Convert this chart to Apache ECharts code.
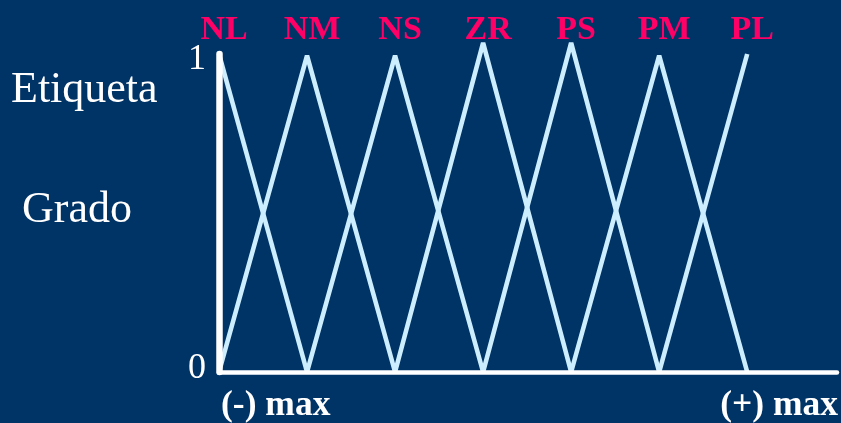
<!DOCTYPE html>
<html>
<head>
<meta charset="utf-8">
<script src="https://cdn.jsdelivr.net/npm/echarts@6/dist/echarts.min.js"></script>
<style>
html,body{margin:0;padding:0;background:#003366;}
#c{width:841px;height:423px;}
</style>
</head>
<body>
<div id="c"></div>
<script>
// Fuzzy label names and their triangle peaks
const labelNames = ['NL', 'NM', 'NS', 'ZR', 'PS', 'PM', 'PL'];
const peakX = [0, 1, 2, 3, 4, 5, 6];
const peakY = [1.0, 0.995, 0.995, 1.035, 1.035, 0.995, 1.0];
const yTickLabels = ['0', '1'];
const xEndLabels = ['(-) max', '(+) max'];
const sideLabels = ['Etiqueta', 'Grado'];

const lineColor = '#cceeff';
const pink = '#ff0066';
const serif = "'Liberation Serif', 'Times New Roman', serif";

const series = labelNames.map((name, i) => {
  const pts = [];
  if (i > 0) pts.push([peakX[i] - 1, 0]);
  pts.push([peakX[i], peakY[i]]);
  if (i < labelNames.length - 1) pts.push([peakX[i] + 1, 0]);
  return {
    name: name,
    type: 'line',
    data: pts,
    symbol: 'none',
    clip: false,
    z: 2,
    lineStyle: { color: lineColor, width: 4.6, join: 'bevel', cap: 'butt' },
    animation: false
  };
});

const chart = echarts.init(document.getElementById('c'), null, { renderer: 'canvas' });
chart.setOption({
  backgroundColor: '#003366',
  animation: false,
  grid: { left: 219, right: 4, top: 54, bottom: 51 },
  xAxis: [
    {
      type: 'value', min: 0, max: 7.02, interval: 1, position: 'bottom',
      axisLine: { show: true, onZero: false, lineStyle: { color: '#ffffff', width: 4.5 } },
      axisTick: { show: false }, axisLabel: { show: false }, splitLine: { show: false },
      z: 5
    },
    {
      type: 'value', min: 0, max: 7.02, interval: 1, position: 'top',
      axisLine: { show: false }, axisTick: { show: false }, splitLine: { show: false },
      axisLabel: {
        show: true, margin: 7, color: pink, fontFamily: serif, fontWeight: 'bold', fontSize: 34,
        padding: [0, 0, 0, 10],
        formatter: v => {
          const i = Math.round(v);
          return Math.abs(v - i) < 1e-6 && labelNames[i] ? labelNames[i] : '';
        }
      }
    }
  ],
  yAxis: {
    type: 'value', min: 0, max: 1, interval: 1,
    axisLine: { show: true, lineStyle: { color: '#ffffff', width: 6.5 } },
    axisTick: { show: false }, splitLine: { show: false },
    axisLabel: {
      color: '#ffffff', fontFamily: serif, fontSize: 36, margin: 13,
      formatter: v => (Math.round(v) === 1 ? '{hi|' : '{lo|') + yTickLabels[Math.round(v)] + '}',
      rich: {
        hi: { color: '#ffffff', fontFamily: serif, fontSize: 36, padding: [12, 0, 0, 0] },
        lo: { color: '#ffffff', fontFamily: serif, fontSize: 36, padding: [0, 0, 6, 0] }
      }
    },
    z: 5
  },
  graphic: [
    { type: 'text', x: 11, y: 90, style: { text: sideLabels[0], fill: '#ffffff', font: "44px " + serif, textVerticalAlign: 'middle' } },
    { type: 'text', x: 22, y: 210, style: { text: sideLabels[1], fill: '#ffffff', font: "44px " + serif, textVerticalAlign: 'middle' } },
    { type: 'text', x: 221, y: 406, style: { text: xEndLabels[0], fill: '#ffffff', font: "bold 35.5px " + serif, textVerticalAlign: 'middle' } },
    { type: 'text', x: 838, y: 406, style: { text: xEndLabels[1], fill: '#ffffff', font: "bold 35.5px " + serif, textAlign: 'right', textVerticalAlign: 'middle' } }
  ],
  series: series
});
</script>
</body>
</html>
